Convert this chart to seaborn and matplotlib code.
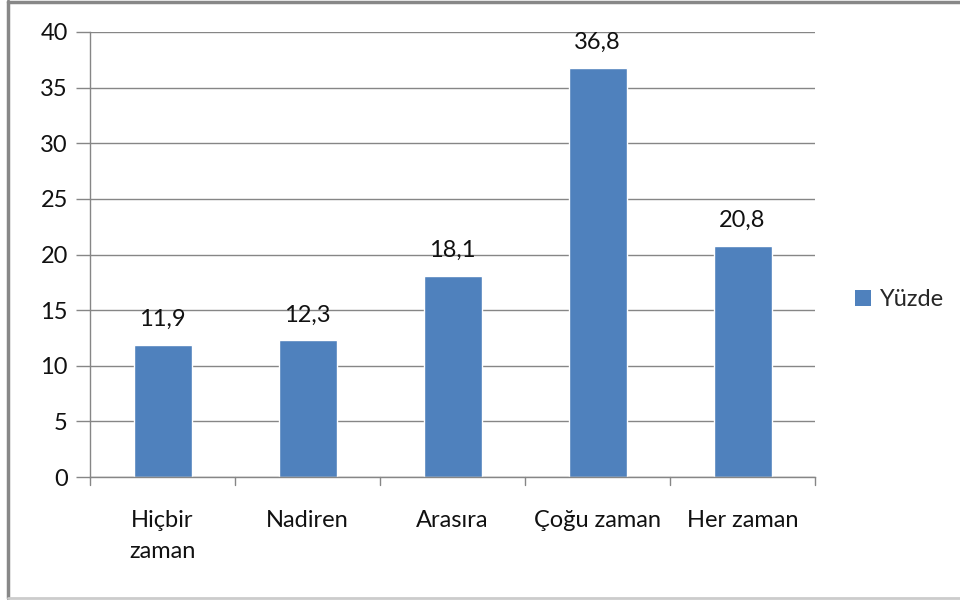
import numpy as np
import pandas as pd
import matplotlib.pyplot as plt
import seaborn as sns
from matplotlib.patches import Patch
from matplotlib.lines import Line2D

categories = ['Hiçbir\nzaman', 'Nadiren', 'Arasıra', 'Çoğu zaman', 'Her zaman']
values = [11.9, 12.3, 18.1, 36.8, 20.8]
series_name = 'Yüzde'

df = pd.DataFrame({'kategori': categories, 'deger': values})

sns.set_style('white')
plt.rcParams['font.family'] = ['Lato', 'DejaVu Sans']

fig = plt.figure(figsize=(9.6, 6), dpi=100)
ax = fig.add_axes([90 / 960, 1 - 477 / 600, 725 / 960, 445 / 600])

sns.barplot(data=df, x='kategori', y='deger', color='#4F81BD', width=0.4,
            saturation=1, ax=ax)

grid_c = '#868686'
txt_c = '#111111'
fs = 17
ax.set_ylim(0, 40)
ax.set_xlim(-0.5, len(categories) - 0.5)
ax.set_yticks(np.arange(0, 41, 5))
ax.yaxis.grid(True, color=grid_c, linewidth=1)
ax.set_axisbelow(True)
for s in ['top', 'right']:
    ax.spines[s].set_visible(False)
for s in ['left', 'bottom']:
    ax.spines[s].set_color(grid_c)
    ax.spines[s].set_linewidth(1)

ax.tick_params(axis='y', length=10, color=grid_c, width=1, labelsize=fs,
               labelcolor=txt_c, pad=6, left=True)
ax.set_xticks(np.arange(len(categories)))
ax.set_xticklabels(categories, fontsize=fs, color=txt_c, linespacing=1.55,
                   va='top')
ax.tick_params(axis='x', length=0, pad=24)
# boundary ticks between categories
for b in np.arange(-0.5, len(categories), 1.0):
    ax.plot([b, b], [0, -0.018], transform=ax.get_xaxis_transform(),
            color=grid_c, linewidth=1, clip_on=False)
ax.set_xlabel('')
ax.set_ylabel('')

for i, v in enumerate(values):
    ax.text(i, v + 1.3, f'{v:.1f}'.replace('.', ','), ha='center', va='bottom',
            fontsize=fs, color=txt_c)

handle = Patch(facecolor='#4F81BD', edgecolor='none')
fig.legend([handle], [series_name], loc='center left',
           bbox_to_anchor=(834 / 960, 1 - 300 / 600), frameon=False,
           fontsize=fs, handlelength=0.65, handleheight=0.65, handletextpad=0.4)

# chart frame
fig.add_artist(Line2D([8 / 960, 8 / 960], [2 / 600, 1 - 1 / 600],
                      color='#888888', linewidth=2.5, transform=fig.transFigure))
fig.add_artist(Line2D([8 / 960, 1], [1 - 1.5 / 600, 1 - 1.5 / 600],
                      color='#888888', linewidth=2.5, transform=fig.transFigure))
fig.add_artist(Line2D([8 / 960, 1], [2 / 600, 2 / 600],
                      color='#cccccc', linewidth=2, transform=fig.transFigure))

fig.savefig('out.png', dpi=100)
